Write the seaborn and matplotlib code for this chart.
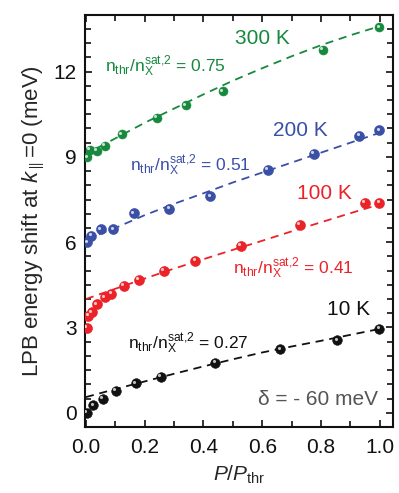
import numpy as np
import pandas as pd
import matplotlib
matplotlib.use("Agg")
import matplotlib.pyplot as plt
import matplotlib.transforms as mtransforms
from matplotlib.ticker import MultipleLocator
import seaborn as sns

# ---------------- data ----------------
x_10K = [0.004, 0.025, 0.057, 0.101, 0.170, 0.255, 0.440, 0.662, 0.856, 0.998]
y_10K = [0.00, 0.26, 0.49, 0.77, 1.03, 1.27, 1.76, 2.23, 2.55, 2.95]

x_100K = [0.004, 0.008, 0.021, 0.038, 0.064, 0.087, 0.130, 0.180, 0.266, 0.372, 0.527, 0.728, 0.949, 0.998]
y_100K = [2.99, 3.41, 3.53, 3.81, 4.06, 4.18, 4.46, 4.68, 5.00, 5.35, 5.87, 6.62, 7.38, 7.39]

x_200K = [0.005, 0.019, 0.051, 0.094, 0.164, 0.284, 0.424, 0.620, 0.776, 0.930, 0.998]
y_200K = [5.99, 6.23, 6.45, 6.45, 7.02, 7.18, 7.61, 8.55, 9.11, 9.75, 9.93]

x_300K = [0.005, 0.013, 0.037, 0.064, 0.123, 0.241, 0.340, 0.467, 0.806, 0.998]
y_300K = [8.98, 9.25, 9.22, 9.38, 9.79, 10.37, 10.82, 11.31, 12.76, 13.56]

# fitted (dashed) curves
fit_x = [0.0, 0.1, 0.2, 0.3, 0.4, 0.5, 0.6, 0.7, 0.8, 0.9, 1.0]
fit_10K = [0.55, 0.83, 1.10, 1.37, 1.63, 1.88, 2.12, 2.33, 2.53, 2.74, 2.95]
fit_100K = [4.00, 4.36, 4.72, 5.07, 5.40, 5.73, 6.05, 6.38, 6.70, 7.02, 7.33]
fit_200K = [6.10, 6.50, 6.95, 7.35, 7.72, 8.10, 8.45, 8.80, 9.15, 9.50, 9.85]
fit_300K = [9.10, 9.65, 10.20, 10.70, 11.20, 11.68, 12.12, 12.54, 12.93, 13.28, 13.60]

temps = ["10K", "100K", "200K", "300K"]
temp_labels = ["10 K", "100 K", "200 K", "300 K"]
ratios = ["0.27", "0.41", "0.51", "0.75"]
x_ticks = [0.0, 0.2, 0.4, 0.6, 0.8, 1.0]
y_ticks = [0, 3, 6, 9, 12]

colors = {"10K": "#111111", "100K": "#ec2229", "200K": "#3a4fa6", "300K": "#17893e"}

# ---------------- style ----------------
sns.set_theme(style="ticks")
plt.rcParams["font.family"] = ["Liberation Sans", "DejaVu Sans"]
plt.rcParams["mathtext.fontset"] = "custom"
plt.rcParams["mathtext.rm"] = "Liberation Sans"
plt.rcParams["mathtext.it"] = "Liberation Sans:italic"
plt.rcParams["mathtext.bf"] = "Liberation Sans:bold"
plt.rcParams["mathtext.sf"] = "Liberation Sans"

fig = plt.figure(figsize=(3.99, 4.93), dpi=100)
ax = fig.add_axes([0.213, 0.134, 0.772, 0.836])

pts = pd.concat([
    pd.DataFrame({"x": x_10K, "y": y_10K, "T": "10K"}),
    pd.DataFrame({"x": x_100K, "y": y_100K, "T": "100K"}),
    pd.DataFrame({"x": x_200K, "y": y_200K, "T": "200K"}),
    pd.DataFrame({"x": x_300K, "y": y_300K, "T": "300K"}),
], ignore_index=True)

fits = pd.concat([
    pd.DataFrame({"x": fit_x, "y": fit_10K, "T": "10K"}),
    pd.DataFrame({"x": fit_x, "y": fit_100K, "T": "100K"}),
    pd.DataFrame({"x": fit_x, "y": fit_200K, "T": "200K"}),
    pd.DataFrame({"x": fit_x, "y": fit_300K, "T": "300K"}),
], ignore_index=True)

for T in temps:
    sub = fits[fits["T"] == T]
    sns.lineplot(data=sub, x="x", y="y", ax=ax, color=colors[T], lw=1.3,
                 linestyle=(0, (4.5, 3.2)), sort=False, legend=False, zorder=2)

sizes = {"10K": 48, "100K": 52, "200K": 52, "300K": 42}
for T in temps:
    sub = pts[pts["T"] == T]
    sns.scatterplot(data=sub, x="x", y="y", ax=ax, color=colors[T], s=sizes[T],
                    edgecolor=colors[T], linewidth=0.4, legend=False, zorder=3)
    # small specular highlight to mimic shaded spheres
    off = mtransforms.offset_copy(ax.transData, fig=fig, x=-1.2, y=1.2, units="points")
    ax.scatter(sub["x"], sub["y"], s=5, color="white", alpha=0.75, lw=0,
               transform=off, zorder=4)

# ---------------- annotations ----------------
def ratio_label(r):
    return r"$\mathregular{n_{thr}/n_{X}^{sat{,}2}}$" + " = " + r

ax.text(0.60, 13.18, temp_labels[3], color=colors["300K"],
        fontsize=15, ha="center", va="center")
ax.text(0.065, 12.2, ratio_label(ratios[3]), color=colors["300K"],
        fontsize=12.5, ha="left", va="center")
ax.text(0.73, 9.93, temp_labels[2], color=colors["200K"], fontsize=15,
        ha="center", va="center")
ax.text(0.15, 8.7, ratio_label(ratios[2]), color=colors["200K"],
        fontsize=12.5, ha="left", va="center")
ax.text(0.81, 7.7, temp_labels[1], color=colors["100K"], fontsize=15,
        ha="center", va="center")
ax.text(0.50, 5.08, ratio_label(ratios[1]), color=colors["100K"],
        fontsize=12.5, ha="left", va="center")
ax.text(0.895, 3.64, temp_labels[0], color=colors["10K"], fontsize=15,
        ha="center", va="center")
ax.text(0.143, 2.45, ratio_label(ratios[0]), color=colors["10K"],
        fontsize=12.5, ha="left", va="center")
ax.text(0.995, 0.45, "\u03b4 = - 60 meV", color="#555555", fontsize=15,
        ha="right", va="center")

# ---------------- axes ----------------
ax.set_xlim(-0.003, 1.045)
ax.set_ylim(-0.5, 14.0)
ax.set_xticks(x_ticks)
ax.set_xticklabels([f"{v:.1f}" for v in x_ticks])
ax.set_yticks(y_ticks)
ax.set_yticklabels([str(v) for v in y_ticks])
ax.xaxis.set_minor_locator(MultipleLocator(0.1))
ax.yaxis.set_minor_locator(MultipleLocator(0.5))
ax.tick_params(which="both", direction="in", top=True, right=True,
               width=1.2, colors="#111111", labelsize=15)
ax.tick_params(axis="x", pad=8)
ax.tick_params(axis="y", pad=6)
ax.tick_params(which="major", length=5)
ax.tick_params(which="minor", length=4)
for sp in ax.spines.values():
    sp.set_linewidth(1.5)
    sp.set_color("#111111")

ax.set_xlabel(r"$P/P_{\mathregular{thr}}$", fontsize=15, labelpad=5)
ax.set_ylabel(r"LPB energy shift at $k_{\parallel}$=0 (meV)", fontsize=16, labelpad=5)

fig.savefig("out.png", dpi=100)
